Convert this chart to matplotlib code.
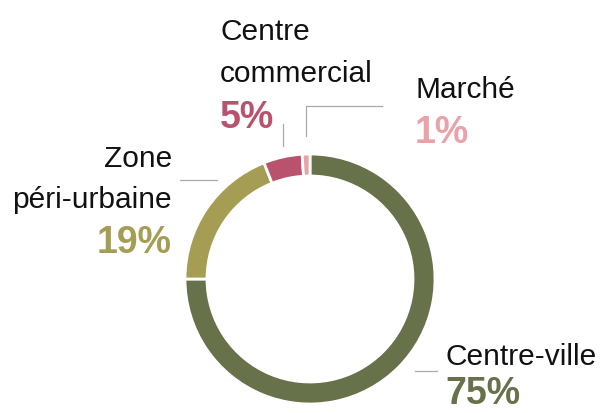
import matplotlib.pyplot as plt

# parts du lieu d'achat
labels = ["Centre-ville", "Zone\npéri-urbaine", "Centre\ncommercial", "Marché"]
values = [75, 19, 5, 1]
colors = ["#67714a", "#a69d55", "#b9536d", "#e8a2a8"]

W, H = 603, 414
fig = plt.figure(figsize=(W / 100, H / 100), dpi=100)
ax = fig.add_axes([0, 0, 1, 1])

def py(y):
    # coordonnées pixel (origine en haut) -> axes
    return H - y

cx, cy, r = 310, py(280), 125
ax.pie(values, colors=colors, startangle=90, counterclock=False,
       center=(cx, cy), radius=r,
       wedgeprops=dict(width=22, edgecolor="white", linewidth=2))
ax.set_xlim(0, W)
ax.set_ylim(0, H)
ax.set_aspect("equal")
ax.axis("off")

font = "Liberation Sans"
lab_size = 21.5
pct_size = 27

# (x, baseline des lignes, baseline du pourcentage, alignement)
pos = [
    (445, [365], 404, "left"),
    (172, [167, 208], 253, "right"),
    (220, [40, 82], 128, "left"),
    (415, [98], 143, "left"),
]

for lab, v, c, (x, ys, yp, ha) in zip(labels, values, colors, pos):
    for line, yb in zip(lab.split("\n"), ys):
        ax.text(x, py(yb), line, ha=ha, va="baseline", fontsize=lab_size,
                family=font, color="#111111")
    ax.text(x, py(yp), f"{v}%", ha=ha, va="baseline", fontsize=pct_size,
            family=font, fontweight="bold", color=c)

# traits de rappel
lc = "#aaaaaa"
lw = 0.9
ax.plot([415, 437], [py(372), py(372)], color=lc, lw=lw)
ax.plot([180, 217], [py(181), py(181)], color=lc, lw=lw)
ax.plot([283, 283], [py(125), py(147)], color=lc, lw=lw)
ax.plot([382, 306, 306], [py(107), py(107), py(137)], color=lc, lw=lw)

fig.savefig("out.png", dpi=100)
